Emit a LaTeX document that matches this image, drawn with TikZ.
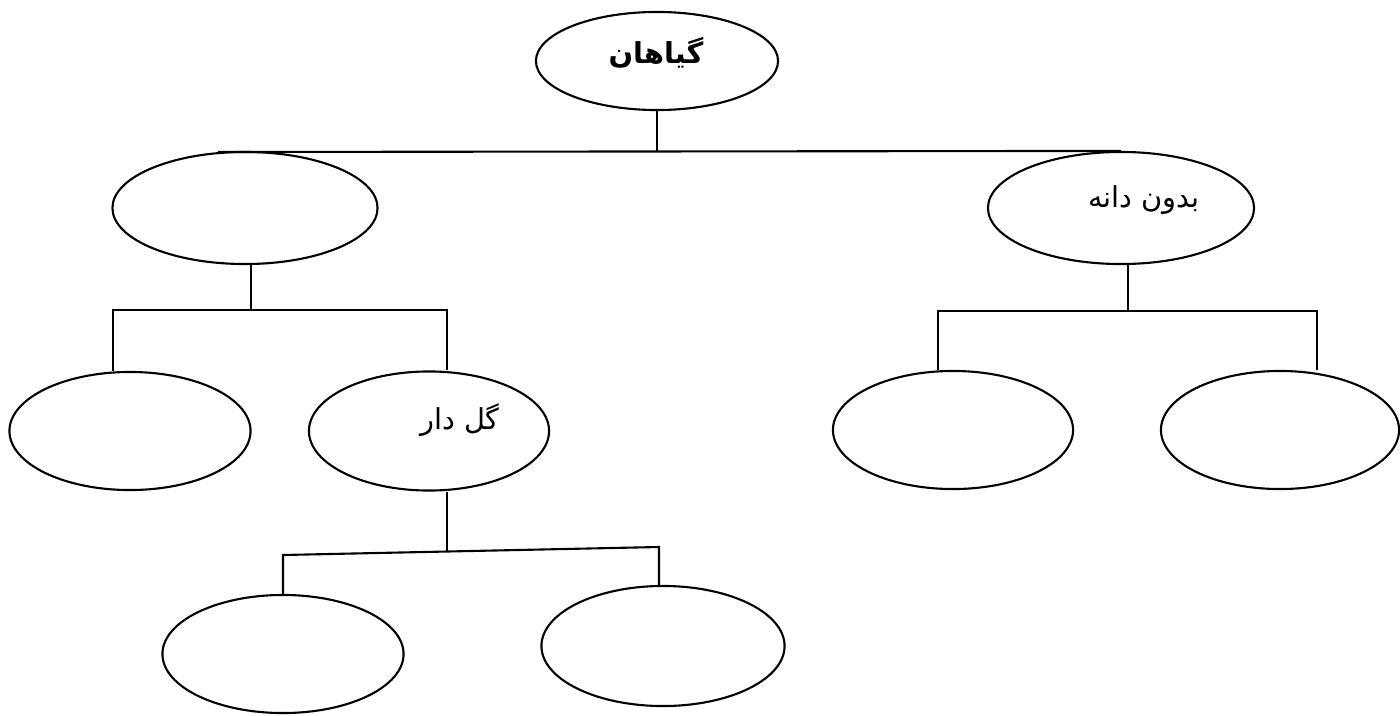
\documentclass[tikz,border=0pt]{standalone}
\usepackage{fontspec}
\usetikzlibrary{shapes.geometric, calc}
\newfontfamily\arabicfont[Script=Arabic]{DejaVu Sans}
\TeXXeTstate=1

\tikzset{
    oval/.style={ellipse, draw, line width=0.6pt, inner sep=0pt},
    word/.style={font=\arabicfont\fontsize{8.2}{10}\selectfont, inner sep=0pt}
}

\begin{document}
\begin{tikzpicture}[x=0.01cm, y=-0.01cm, line width=0.6pt]
        \useasboundingbox (0,0) rectangle (1400,715);

        \node[oval, minimum width=2.42cm, minimum height=0.98cm] (root) at (657,61) {};
        \node[oval, minimum width=2.65cm, minimum height=1.12cm] (seed) at (245,208) {};
        \node[oval, minimum width=2.66cm, minimum height=1.12cm] (noseed) at (1121,208) {};
        \node[oval, minimum width=2.41cm, minimum height=1.18cm] (bare) at (130,431) {};
        \node[oval, minimum width=2.40cm, minimum height=1.19cm] (flower) at (429,431) {};
        \node[oval, minimum width=2.40cm, minimum height=1.18cm] (rootA) at (953,430) {};
        \node[oval, minimum width=2.38cm, minimum height=1.18cm] (rootB) at (1280,430) {};
        \node[oval, minimum width=2.41cm, minimum height=1.18cm] (flowA) at (283,654) {};
        \node[oval, minimum width=2.43cm, minimum height=1.20cm] (flowB) at (663,646) {};

        \node[word, font=\arabicfont\bfseries\fontsize{8.2}{10}\selectfont] (t-root) at (656,53) {\beginR گیاهان\endR};
        \node[word] (t-noseed) at (1144,200) {\beginR بدون دانه\endR};
        \node[word] (t-flower) at (460,420) {\beginR گل دار\endR};

        \coordinate (barL) at (218,152);
        \coordinate (jL) at (251,310);
        \coordinate (kL) at (113,310);
        \coordinate (kR) at (447,310);
        \coordinate (mL) at (283,555);
        \coordinate (mR) at (659,547);
        \coordinate (mJ) at ($(mL)!0.436!(mR)$);
        \coordinate (nJ) at (1128,311);
        \coordinate (nL) at (938,311);
        \coordinate (nR) at (1317,311);

        % top level
        \draw (root.south) -- (root.south |- barL);
        \draw (barL) -- (noseed.north);
        % left branch
        \draw (seed.south -| jL) -- (jL);
        \draw (bare.north -| kL) -- (kL) -- (kR) -- (flower.north -| kR);
        \draw (flower.south -| mJ) -- (mJ);
        \draw (flowA.north) -- (mL) -- (mR) -- (flowB.north -| mR);
        % right branch
        \draw (noseed.south -| nJ) -- (nJ);
        \draw (rootA.north -| nL) -- (nL) -- (nR) -- (rootB.north -| nR);
    \end{tikzpicture}
\end{document}
